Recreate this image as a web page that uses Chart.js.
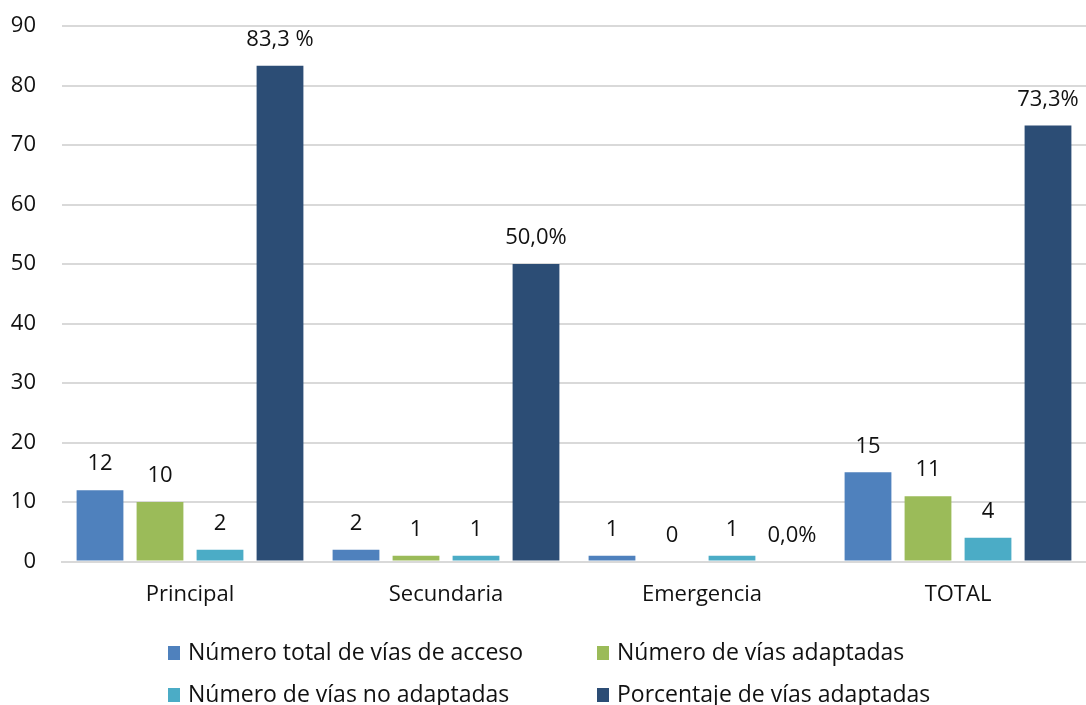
<!DOCTYPE html>
<html>
<head>
<meta charset="utf-8">
<script src="https://cdn.jsdelivr.net/npm/chart.js@4.4.1/dist/chart.umd.min.js"></script>
<style>
  html, body { margin: 0; padding: 0; background: #fff; }
  #wrap { width: 1086px; height: 705px; position: relative; }
</style>
</head>
<body>
<div id="wrap"><canvas id="vias-chart"></canvas></div>
<script>
// Datos del gráfico
var categorias = ["Principal", "Secundaria", "Emergencia", "TOTAL"];
var totalVias = [12, 2, 1, 15];
var viasAdaptadas = [10, 1, 0, 11];
var viasNoAdaptadas = [2, 1, 1, 4];
var porcentajeAdaptadas = [83.3, 50.0, 0.0, 73.3];
var etiquetasPorcentaje = ["83,3 %", "50,0%", "0,0%", "73,3%"];
var nombresSeries = [
  "Número total de vías de acceso",
  "Número de vías adaptadas",
  "Número de vías no adaptadas",
  "Porcentaje de vías adaptadas"
];
var ticksY = [0, 10, 20, 30, 40, 50, 60, 70, 80, 90];

var fuente = "'Open Sans', 'DejaVu Sans', sans-serif";

// Etiquetas encima de cada barra
var etiquetasBarras = {
  id: "etiquetasBarras",
  afterDatasetsDraw: function (chart) {
    var ctx = chart.ctx;
    ctx.save();
    ctx.font = "22px " + fuente;
    ctx.fillStyle = "#111";
    ctx.textAlign = "center";
    ctx.textBaseline = "middle";
    chart.data.datasets.forEach(function (ds, i) {
      var meta = chart.getDatasetMeta(i);
      meta.data.forEach(function (bar, j) {
        var txt = ds.textos ? ds.textos[j] : String(ds.data[j]);
        ctx.fillText(txt, bar.x, bar.y - 26);
      });
    });
    ctx.restore();
  }
};

// Leyenda en dos columnas debajo del eje
var leyenda = {
  id: "leyenda",
  afterDraw: function (chart) {
    var ctx = chart.ctx;
    var colX = [168, 597];
    var filaY = [653, 695];
    ctx.save();
    ctx.font = "23px " + fuente;
    ctx.textBaseline = "middle";
    ctx.textAlign = "left";
    chart.data.datasets.forEach(function (ds, i) {
      var x = colX[i % 2];
      var y = filaY[Math.floor(i / 2)];
      ctx.fillStyle = ds.backgroundColor;
      ctx.fillRect(x, y - 7, 12, 14);
      ctx.fillStyle = "#111";
      ctx.fillText(ds.label, x + 20, y);
    });
    ctx.restore();
  }
};

var ctx = document.getElementById("vias-chart").getContext("2d");
var grafico = new Chart(ctx, {
  type: "bar",
  data: {
    labels: categorias,
    datasets: [
      { label: nombresSeries[0], data: totalVias, backgroundColor: "#4f81bd" },
      { label: nombresSeries[1], data: viasAdaptadas, backgroundColor: "#9bbb59" },
      { label: nombresSeries[2], data: viasNoAdaptadas, backgroundColor: "#4bacc6" },
      { label: nombresSeries[3], data: porcentajeAdaptadas, backgroundColor: "#2c4d75", textos: etiquetasPorcentaje }
    ]
  },
  options: {
    responsive: true,
    maintainAspectRatio: false,
    animation: false,
    datasets: {
      bar: { categoryPercentage: 0.9375, barPercentage: 0.78 }
    },
    layout: { padding: { top: 26, right: 0, left: 0, bottom: 85 } },
    plugins: {
      legend: { display: false },
      tooltip: { enabled: false }
    },
    scales: {
      x: {
        grid: { display: false },
        border: { color: "#d9d9d9", width: 2 },
        ticks: { color: "#111", font: { family: fuente, size: 22 }, padding: 12 }
      },
      y: {
        min: 0,
        max: 90,
        afterBuildTicks: function (axis) {
          axis.ticks = ticksY.map(function (v) { return { value: v }; });
        },
        afterFit: function (axis) {
          axis.width = 62;
          axis.paddingTop = 0;
          axis.paddingBottom = 0;
        },
        grid: { color: "#d9d9d9", lineWidth: 2, drawTicks: false },
        border: { display: false },
        ticks: { color: "#111", font: { family: fuente, size: 22 }, padding: 26 }
      }
    }
  },
  plugins: [etiquetasBarras, leyenda]
});
</script>
</body>
</html>
